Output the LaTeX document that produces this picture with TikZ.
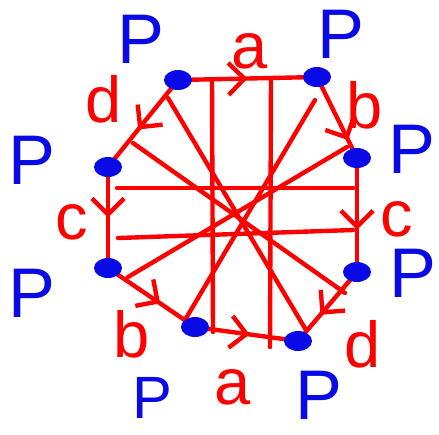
\documentclass[tikz,border=0pt]{standalone}
\usepackage{fontspec}
\setmainfont{Liberation Sans}
\usepackage{tikz}
\usetikzlibrary{arrows.meta,decorations.markings,shapes.geometric}
\definecolor{penred}{HTML}{FF0000}
\definecolor{penblue}{HTML}{0A0AE6}
\tikzset{
  ln/.style={penred,line width=2.5pt,line cap=round,line join=round},
  ed/.style={ln,postaction={decorate},
    decoration={markings,mark=at position #1 with {\arrow{Straight Barb[length=3.2mm,width=6.4mm]}}}},
  dot/.style={ellipse,fill=penblue,minimum width=0.56cm,minimum height=0.4cm,inner sep=0pt},
  lbl/.style={penred,inner sep=0pt,font=\fontsize{37}{39}\selectfont},
  plbl/.style={penblue,inner sep=0pt,font=\fontsize{40}{42}\selectfont}
}

\begin{document}
\begin{tikzpicture}[x=0.02cm,y=-0.02cm]
\useasboundingbox (0,0) rectangle (439,434);
% corners of the octagon
\coordinate (v1) at (178,80);
\coordinate (v2) at (317,77);
\coordinate (v3) at (357,158);
\coordinate (v4) at (357,272);
\coordinate (v5) at (298,341);
\coordinate (v6) at (195,327);
\coordinate (v7) at (108,268);
\coordinate (v8) at (108,167);
% ends of the inner lines
\coordinate (t1) at (212,79);  \coordinate (b1) at (213,332);
\coordinate (t2) at (271,78);  \coordinate (b2) at (270,347);
\coordinate (l1) at (117,188); \coordinate (r1) at (353,188);
\coordinate (l2) at (118,238); \coordinate (r2) at (353,230);
\coordinate (p1) at (168,98);  \coordinate (q1) at (306,330);
\coordinate (p2) at (133,143); \coordinate (q2) at (345,293);
\coordinate (p3) at (185,320); \coordinate (q3) at (315,100);
\coordinate (p4) at (128,277); \coordinate (q4) at (347,147);
% inner lines
\draw[ln] (t1) -- (b1);
\draw[ln] (t2) -- (b2);
\draw[ln] (l1) -- (r1);
\draw[ln] (l2) -- (r2);
\draw[ln] (p1) -- (q1);
\draw[ln] (p2) -- (q2);
\draw[ln] (p3) -- (q3);
\draw[ln] (p4) -- (q4);
% sides with arrows
\draw[ed=0.5]  (v1) -- (v2);
\draw[ed=0.78] (v2) -- (v3);
\draw[ed=0.63] (v3) -- (v4);
\draw[ed=0.62] (v4) -- (v5);
\draw[ed=0.53] (v6) -- (v5);
\draw[ed=0.6]  (v7) -- (v6);
\draw[ed=0.5]  (v8) -- (v7);
\draw[ed=0.57] (v1) -- (v8);
\foreach \i in {1,...,8}{\node[dot] (d\i) at (v\i) {};}
% side labels
\node[lbl] (atop) at (250,51) {a};
\node[lbl] (bright) at (365,105) {b};
\node[lbl] (cright) at (397,219) {c};
\node[lbl] (dright) at (363,344) {d};
\node[lbl] (abot) at (233,387) {a};
\node[lbl] (bleft) at (132,334) {b};
\node[lbl] (cleft) at (72,222) {c};
\node[lbl] (dleft) at (104,99) {d};
% corner labels
\foreach \nm/\pos in {pa/{141,39},pb/{341,34},pc/{412,149},pd/{413,273},
  pe/{319,395},pg/{32,293},ph/{32,160}}
  {\node[plbl] (\nm) at (\pos) {P};}
\node[plbl,font=\fontsize{34}{36}\selectfont] (pf) at (152,398) {P};
\end{tikzpicture}
\end{document}
